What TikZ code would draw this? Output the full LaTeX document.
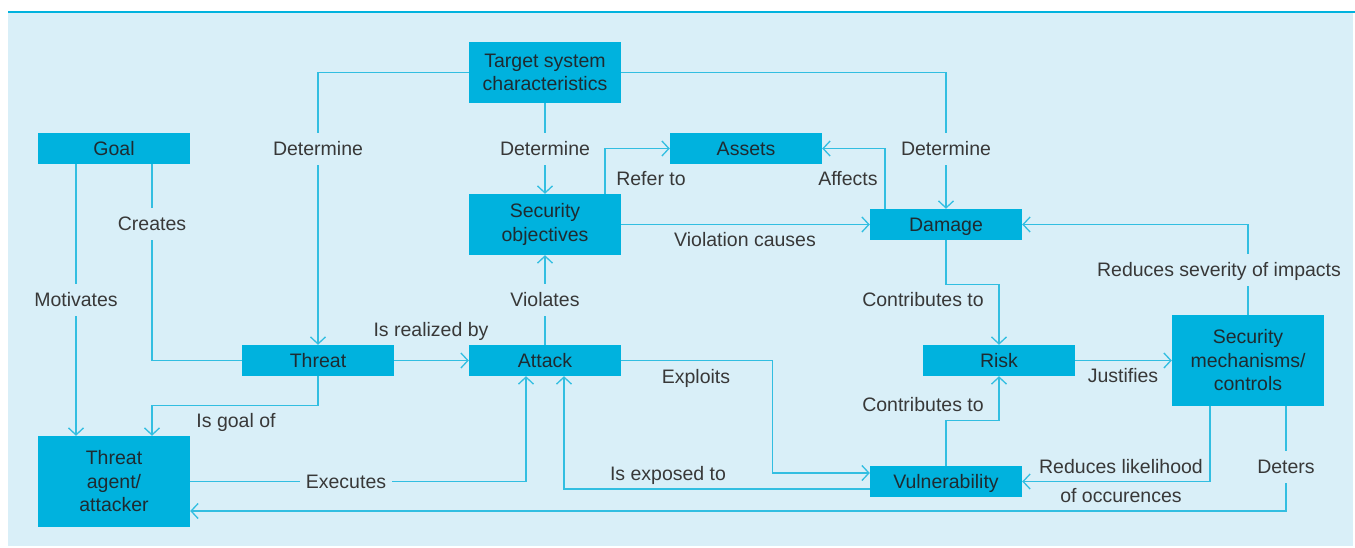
\documentclass[tikz,border=0pt]{standalone}
\usepackage{fontspec}
\setmainfont{Liberation Sans}
\usetikzlibrary{arrows.meta}
\definecolor{panelc}{HTML}{D9EFF8}
\definecolor{boxc}{HTML}{00B2DE}
\definecolor{linec}{HTML}{32BEE1}
\definecolor{topc}{HTML}{00B2DE}
\definecolor{txtc}{HTML}{383838}
\definecolor{boxtxt}{HTML}{1E2B31}
\tikzset{
  box/.style={fill=boxc, minimum width=152pt, minimum height=31pt, inner sep=0pt,
    align=center, text=boxtxt},
  sl/.style={text height=13.6pt, text depth=0pt},
  conn/.style={draw=linec, line width=1.3pt},
  arr/.style={conn, -{Straight Barb[length=7pt,width=15pt]}},
  lbl/.style={text=txtc, inner sep=0pt, text height=13.6pt, text depth=0pt, align=center},
  mlbl/.style={lbl, fill=panelc, inner xsep=6pt, inner ysep=9pt},
}
\begin{document}
\begin{tikzpicture}[x=1pt, y=-1pt, font=\fontsize{19.5}{23.5}\selectfont]
\useasboundingbox (0,0) rectangle (1355,547);
\fill[white] (0,0) rectangle (1355,547);
\fill[panelc] (8,12) rectangle (1353,546);
\draw[topc, line width=1.5pt] (8,12) -- (1355,12);

% nodes
\node[box, sl] (goal) at (114,148.5) {Goal};
\node[box, minimum height=61pt] (tgt) at (545,72.5) {Target system\\characteristics};
\node[box, sl] (assets) at (746,148.5) {Assets};
\node[box, minimum height=61pt] (secobj) at (545,224.5) {Security\\objectives};
\node[box, sl] (damage) at (946,224.5) {Damage};
\node[box, sl] (threat) at (318,360.5) {Threat};
\node[box, sl] (attack) at (545,360.5) {Attack};
\node[box, minimum height=91pt] (agent) at (114,481.5) {Threat\\agent/\\attacker};
\node[box, sl] (risk) at (999,360.5) {Risk};
\node[box, minimum height=91pt] (secmech) at (1248,360.5) {Security\\mechanisms/\\controls};
\node[box, sl] (vuln) at (946,481.5) {Vulnerability};

% connectors
\draw[arr] (tgt.west) -| (threat.north);
\draw[arr] (tgt.south) -- (secobj.north);
\draw[arr] (tgt.east) -| (damage.north);
\draw[arr] ([xshift=-38pt]goal.south) -- ([xshift=-38pt]agent.north);
\draw[conn] ([xshift=38pt]goal.south) |- (threat.west);
\draw[arr] (threat.east) -- (attack.west);
\draw[arr] (threat.south) -- ++(0,29) -| ([xshift=38pt]agent.north);
\draw[arr] (attack.north) -- (secobj.south);
\draw[arr] (agent.east) -| ([xshift=-19pt]attack.south);
\draw[arr] ([yshift=-7.5pt]vuln.west) -| ([xshift=19pt]attack.south);
\draw[arr] (attack.east) -- ++(151,0) |- ([yshift=8.5pt]vuln.west);
\draw[arr] ([xshift=60pt]secobj.north) |- (assets.west);
\draw[arr] ([xshift=-61pt]damage.north) |- (assets.east);
\draw[arr] (secobj.east) -- (damage.west);
\draw[arr] (damage.south) -- ++(0,44) -| (risk.north);
\draw[arr] (vuln.north) -- ++(0,-45) -| (risk.south);
\draw[arr] (risk.east) -- (secmech.west);
\draw[arr] (secmech.north) |- (damage.east);
\draw[arr] ([xshift=-38pt]secmech.south) |- (vuln.east);
\draw[arr] ([xshift=38pt]secmech.south) |- ([yshift=-29.5pt]agent.east);

% labels on lines (masking)
\node[mlbl] (l1) at (318,149) {Determine};
\node[mlbl] (l2) at (545,149) {Determine};
\node[mlbl] (l3) at (946,149) {Determine};
\node[mlbl] (l4) at (76,300) {Motivates};
\node[mlbl] (l5) at (152,224) {Creates};
\node[mlbl] (l6) at (545,300) {Violates};
\node[mlbl] (l7) at (346,482) {Executes};
\node[mlbl] (l8) at (1219,270) {Reduces severity of impacts};
\node[mlbl] (l9) at (1286,467) {Deters};

% free labels
\node[lbl] (l10) at (431,330) {Is realized by};
\node[lbl] (l11) at (236,421) {Is goal of};
\node[lbl] (l12) at (668,474) {Is exposed to};
\node[lbl] (l13) at (696,377) {Exploits};
\node[lbl] (l14) at (651,179) {Refer to};
\node[lbl] (l15) at (848,179) {Affects};
\node[lbl] (l16) at (745,240) {Violation causes};
\node[lbl] (l17) at (923,300) {Contributes to};
\node[lbl] (l18) at (923,405) {Contributes to};
\node[lbl] (l19) at (1123,376) {Justifies};
\node[lbl] (l20) at (1121,467) {Reduces likelihood};
\node[lbl] (l21) at (1121,496) {of occurences};
\end{tikzpicture}
\end{document}
